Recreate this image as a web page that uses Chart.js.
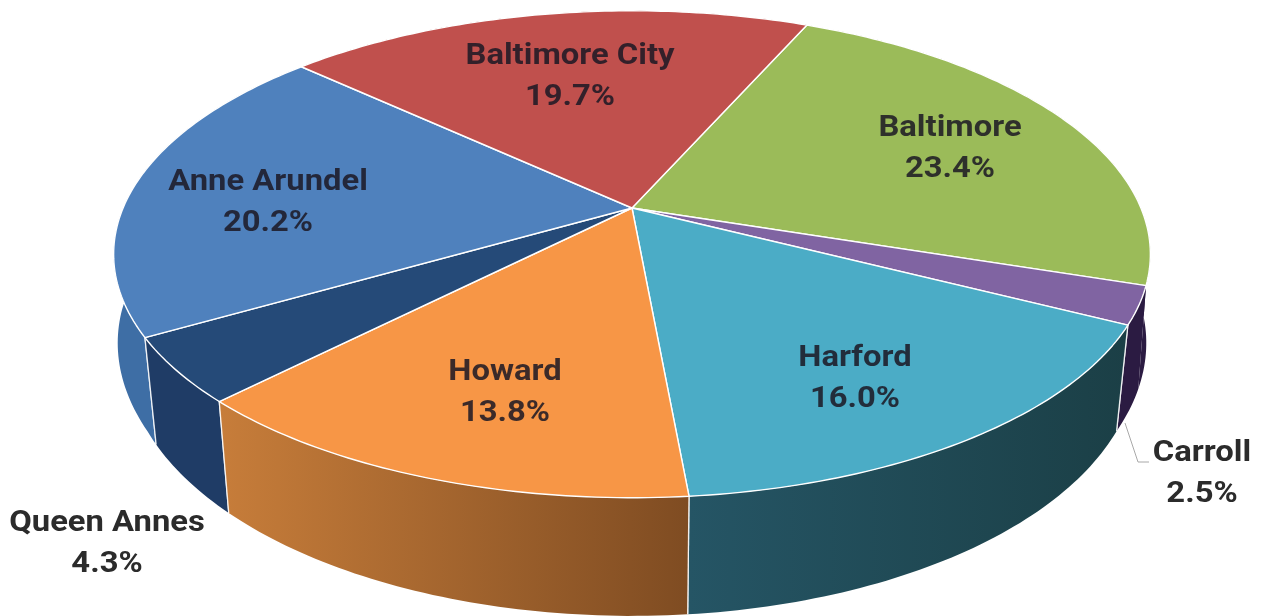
<!DOCTYPE html>
<html>
<head>
<meta charset="utf-8">
<title>Pie</title>
<script src="https://cdn.jsdelivr.net/npm/chart.js@4/dist/chart.umd.min.js"></script>
<style>
  html, body { margin:0; padding:0; background:#fff; overflow:hidden; }
  #wrap { width:1262px; height:616px; }
</style>
</head>
<body>
<div id="wrap"><canvas id="pie" width="1262" height="616"></canvas></div>
<script>
const counties = ['Baltimore','Carroll','Harford','Howard','Queen Annes','Anne Arundel','Baltimore City'];
const shares = [23.4, 2.5, 16.0, 13.8, 4.3, 20.2, 19.7];
const topColors = ['#9bbb59','#8064a2','#4bacc6','#f79646','#254a78','#4f81bd','#c0504d'];
// Baltimore's wall only shows as a thin sliver next to Carroll, the reference has it dark there
const wallColors = [['#2b1b42','#2b1b42'],['#2b1b42','#2b1b42'],['#255565','#1b3f46'],['#c77d3a','#7f4c22'],['#1f3c66','#1f3c66'],['#3e6ea5','#3e6ea5'],['#7a3230','#7a3230']];
// label centres, picked by eye
const labelSpots = [[950,146],[1202,471],[855,376],[505,390],[107,541],[268,200],[570,74]];

// projective squash: pie disc -> tilted ellipse, apex stays at arc.x/arc.y
const SPREAD_X = 2.455, SPREAD_Y = 1.132, TILT = 0.19;
function project(arc, angle){
  var u = Math.cos(angle), v = Math.sin(angle), w = 1 - TILT*v;
  return { x: arc.x + arc.outerRadius*SPREAD_X*u/w, y: arc.y + arc.outerRadius*SPREAD_Y*v/w };
}
function lower(arc, p){
  // bottom rim pulls in a little towards the front
  var s = 0.977 + 0.023*Math.max(0, Math.min(1, (326-p.y)/118));
  return { x: arc.x + (p.x-arc.x)*s, y: 445 + (p.y-338)*1.07 };
}
function rimPoints(arc){
  var pts = [], n = Math.max(4, Math.ceil((arc.endAngle-arc.startAngle)*60));
  for (var i=0;i<=n;i++) pts.push(project(arc, arc.startAngle + (arc.endAngle-arc.startAngle)*i/n));
  return pts;
}

const tiltedPie = {
  id: 'tiltedPie',
  beforeDatasetsDraw: function(chart){
    var ctx = chart.ctx, arcs = chart.getDatasetMeta(0).data;
    // walls back to front
    var order = arcs.map(function(a,i){ return i; }).sort(function(a,b){
      return Math.sin((arcs[a].startAngle+arcs[a].endAngle)/2) - Math.sin((arcs[b].startAngle+arcs[b].endAngle)/2);
    });
    order.forEach(function(i){
      var arc = arcs[i], rim = rimPoints(arc), low = rim.map(function(p){ return lower(arc,p); });
      var xs = rim.map(function(p){ return p.x; });
      var g = ctx.createLinearGradient(Math.min.apply(null,xs),0,Math.max.apply(null,xs),0);
      g.addColorStop(0, wallColors[i][0]); g.addColorStop(1, wallColors[i][1]);
      ctx.beginPath();
      rim.forEach(function(p,k){ k ? ctx.lineTo(p.x,p.y) : ctx.moveTo(p.x,p.y); });
      low.slice().reverse().forEach(function(p){ ctx.lineTo(p.x,p.y); });
      ctx.closePath();
      ctx.fillStyle = g; ctx.fill();
      // white seams down the wall
      ctx.strokeStyle = 'rgba(255,255,255,0.85)'; ctx.lineWidth = 1.3;
      [0, rim.length-1].forEach(function(k){
        if (Math.sin(k ? arc.endAngle : arc.startAngle) < 0.4) return;
        ctx.beginPath(); ctx.moveTo(rim[k].x,rim[k].y); ctx.lineTo(low[k].x,low[k].y); ctx.stroke();
      });
    });
    // top faces
    arcs.forEach(function(arc){
      var rim = rimPoints(arc);
      ctx.beginPath(); ctx.moveTo(arc.x,arc.y);
      rim.forEach(function(p){ ctx.lineTo(p.x,p.y); });
      ctx.closePath();
      ctx.fillStyle = arc.options.backgroundColor; ctx.fill();
      ctx.strokeStyle = arc.options.borderColor; ctx.lineWidth = arc.options.borderWidth; ctx.lineJoin = 'round';
      ctx.stroke();
    });
    return false; // library's flat arcs not painted, only their geometry is used
  },
  afterDraw: function(chart){
    var ctx = chart.ctx;
    // Carroll leader line
    ctx.strokeStyle = '#a8a8a8'; ctx.lineWidth = 1;
    ctx.beginPath(); ctx.moveTo(1125,423); ctx.lineTo(1138,462); ctx.lineTo(1149,462); ctx.stroke();
    ctx.textAlign = 'center'; ctx.textBaseline = 'middle';
    ctx.font = '700 29px Roboto';
    counties.forEach(function(name,i){
      var s = labelSpots[i], outside = (i===1 || i===4);
      ctx.fillStyle = outside ? '#2b2b2b' : 'rgba(28,24,36,0.86)';
      // source picture is stretched a bit sideways
      ctx.save(); ctx.translate(s[0], s[1]+3); ctx.scale(1.13, 1);
      ctx.fillText(name, 0, -20.5);
      ctx.fillText(shares[i].toFixed(1)+'%', 0, 20.5);
      ctx.restore();
    });
  }
};

new Chart(document.getElementById('pie'), {
  type: 'pie',
  data: { labels: counties, datasets: [{ data: shares, backgroundColor: topColors, borderColor: '#ffffff', borderWidth: 1.4 }] },
  options: {
    responsive: false,
    animation: false,
    rotation: 23.8,
    layout: { padding: { left: 2, right: 0, top: 0, bottom: 200 } },
    plugins: { legend: { display: false }, tooltip: { enabled: false } }
  },
  plugins: [tiltedPie]
});
</script>
</body>
</html>
